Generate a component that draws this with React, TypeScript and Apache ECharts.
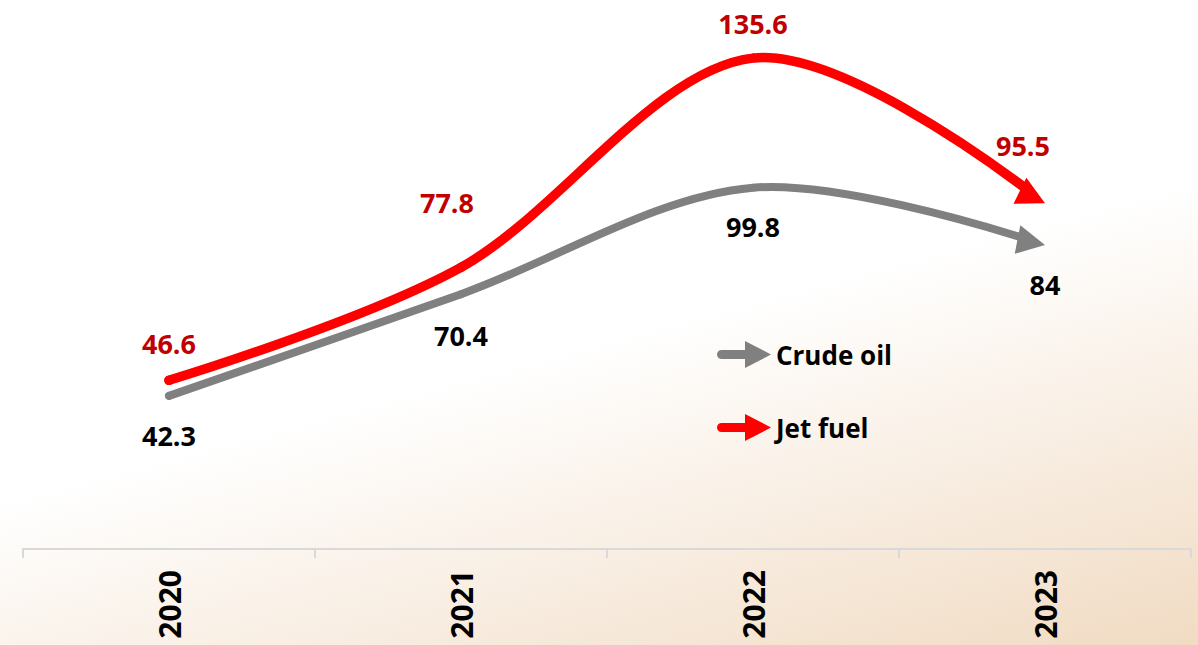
import React, { useEffect, useRef } from "react";
import * as echarts from "echarts";

const categories = ["2020", "2021", "2022", "2023"];
const crudeOil = [42.3, 70.4, 99.8, 84];
const jetFuel = [46.6, 77.8, 135.6, 95.5];
const seriesNames = ["Crude oil", "Jet fuel"];

const FONT = "'Open Sans', 'Liberation Sans', sans-serif";
const GREY = "#808080";
const RED = "#ff0000";
const DARK_RED = "#c00000";

const crudeLabelOffsets = [[0, 40], [0, 41], [0, 39], [0, 40]];
const jetLabelOffsets = [[0, -37], [-14, -65], [0, -35], [-22, -58]];

const ARROW_ICON =
  "path://M4.5,9L28,9L28,0L54,13.5L28,27L28,18L4.5,18A4.5,4.5,0,0,1,4.5,9Z";

const lerp = (a: number[], b: number[], t: number) => [a[0] + (b[0] - a[0]) * t, a[1] + (b[1] - a[1]) * t];

function bezierAt(p0: number[], c1: number[], c2: number[], p3: number[], t: number) {
  const q0 = lerp(p0, c1, t);
  const q1 = lerp(c1, c2, t);
  const q2 = lerp(c2, p3, t);
  const r0 = lerp(q0, q1, t);
  const r1 = lerp(q1, q2, t);
  return { s: lerp(r0, r1, t), q0, r0 };
}

function curveSeries(
  name: string,
  values: number[],
  color: string,
  width: number,
  labelColor: string,
  offsets: number[][],
  z: number
) {
  const n = values.length;
  const headLen = 28;
  const half = 14.5;
  const cut = 18;
  return {
    name,
    type: "custom",
    coordinateSystem: "cartesian2d",
    z,
    clip: false,
    itemStyle: { color },
    encode: { x: 0, y: 1 },
    data: values.map((v, i) => [i, v]),
    renderItem: (params: any, api: any) => {
      const i = params.dataIndex;
      const pts: number[][] = values.map((v, k) => api.coord([k, v]));
      const tangent = (k: number) => {
        if (k <= 0 || k >= n - 1) return [0, 0];
        return [(pts[k + 1][0] - pts[k - 1][0]) / 6, (pts[k + 1][1] - pts[k - 1][1]) / 6];
      };
      const children: any[] = [];
      if (i < n - 1) {
        const t0 = tangent(i);
        const t1 = tangent(i + 1);
        const p0 = pts[i];
        const p3 = pts[i + 1];
        const c1 = [p0[0] + t0[0], p0[1] + t0[1]];
        const c2 = [p3[0] - t1[0], p3[1] - t1[1]];
        let shape: any = {
          x1: p0[0], y1: p0[1], x2: p3[0], y2: p3[1],
          cpx1: c1[0], cpy1: c1[1], cpx2: c2[0], cpy2: c2[1],
        };
        let cap = "round";
        if (i === n - 2) {
          // shorten the last segment so it ends inside the arrow head
          let lo = 0;
          let hi = 1;
          for (let it = 0; it < 40; it++) {
            const mid = (lo + hi) / 2;
            const { s } = bezierAt(p0, c1, c2, p3, mid);
            if (Math.hypot(s[0] - p3[0], s[1] - p3[1]) > cut) lo = mid;
            else hi = mid;
          }
          const { s, q0, r0 } = bezierAt(p0, c1, c2, p3, lo);
          shape = {
            x1: p0[0], y1: p0[1], x2: s[0], y2: s[1],
            cpx1: q0[0], cpy1: q0[1], cpx2: r0[0], cpy2: r0[1],
          };
          cap = "butt";
        }
        children.push({
          type: "bezierCurve",
          shape,
          style: { stroke: color, lineWidth: width, lineCap: cap, fill: "none" },
        });
        if (i === 0) {
          children.push({
            type: "circle",
            shape: { cx: p0[0], cy: p0[1], r: width / 2 },
            style: { fill: color },
          });
        }
      } else {
        // arrow head oriented along the chord of the last segment
        let dx = pts[n - 1][0] - pts[n - 2][0];
        let dy = pts[n - 1][1] - pts[n - 2][1];
        const L = Math.hypot(dx, dy) || 1;
        dx /= L;
        dy /= L;
        const tip = pts[n - 1];
        const base = [tip[0] - dx * headLen, tip[1] - dy * headLen];
        const px = -dy;
        const py = dx;
        children.push({
          type: "polygon",
          z2: 5,
          shape: {
            points: [
              tip,
              [base[0] + px * half, base[1] + py * half],
              [base[0] - px * half, base[1] - py * half],
            ],
          },
          style: { fill: color },
        });
      }
      children.push({
        type: "text",
        z2: 10,
        style: {
          text: String(values[i]),
          x: pts[i][0] + offsets[i][0],
          y: pts[i][1] + offsets[i][1],
          fill: labelColor,
          fontSize: 27,
          fontWeight: "bold",
          fontFamily: FONT,
          align: "center",
          verticalAlign: "middle",
        },
      });
      return { type: "group", children };
    },
  };
}

export default function App() {
  const ref = useRef<HTMLDivElement>(null);

  useEffect(() => {
    if (!ref.current) return;
    const chart = echarts.init(ref.current, undefined, { renderer: "svg" });
    const option: any = {
      animation: false,
      backgroundColor: "transparent",
      grid: { left: 23, right: 7, top: 6, bottom: 96 },
      legend: {
        orient: "vertical",
        left: 712,
        top: 336,
        itemWidth: 54,
        itemHeight: 27,
        itemGap: 46,
        selectedMode: false,
        itemStyle: { borderWidth: 0 },
        textStyle: { fontSize: 26, fontWeight: "bold", color: "#000", fontFamily: FONT },
        data: seriesNames.map((n) => ({ name: n, icon: ARROW_ICON })),
      },
      xAxis: {
        type: "category",
        data: categories,
        boundaryGap: true,
        axisLine: { lineStyle: { color: "#d9d9d9", width: 2 } },
        axisTick: { show: true, length: 9, lineStyle: { color: "#d9d9d9", width: 2 } },
        axisLabel: {
          rotate: 90,
          margin: 21,
          fontSize: 30,
          fontWeight: "bold",
          color: "#000",
          fontFamily: FONT,
        },
        splitLine: { show: false },
      },
      yAxis: {
        type: "value",
        min: 0,
        max: 150,
        show: false,
        splitLine: { show: false },
      },
      series: [
        curveSeries(seriesNames[0], crudeOil, GREY, 8, "#000", crudeLabelOffsets, 2),
        curveSeries(seriesNames[1], jetFuel, RED, 9.5, DARK_RED, jetLabelOffsets, 3),
      ],
    };
    chart.setOption(option);
    return () => chart.dispose();
  }, []);

  return (
    <div
      ref={ref}
      style={{
        position: "absolute",
        left: 0,
        top: 0,
        width: 1198,
        height: 645,
        background: "linear-gradient(165deg, #ffffff 52%, #f1dbc3 100%)",
      }}
    />
  );
}
